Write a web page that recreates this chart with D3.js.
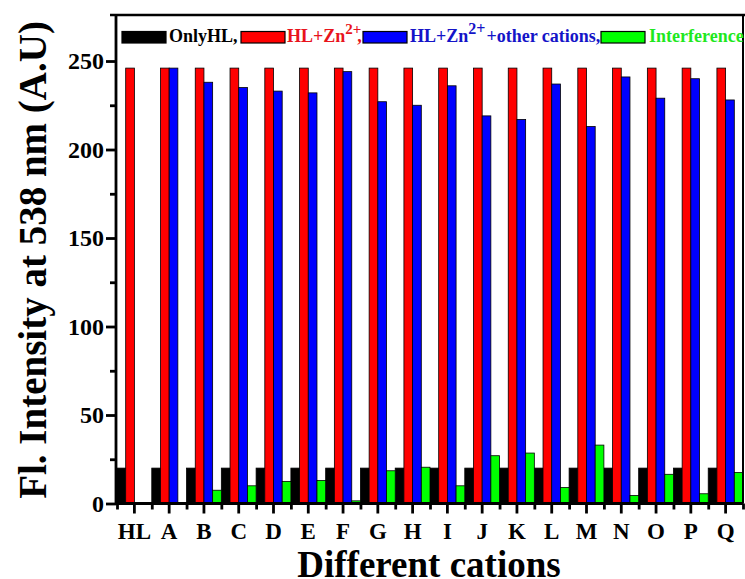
<!DOCTYPE html>
<html>
<head>
<meta charset="utf-8">
<script src="https://cdn.jsdelivr.net/npm/d3@7"></script>
<style>
  html, body { margin: 0; padding: 0; background: #fff; }
  svg { display: block; }
  text { font-family: "Liberation Serif", "Times New Roman", serif; font-weight: bold; }
</style>
</head>
<body>
<svg id="chart" width="745" height="579"></svg>
<script>
const categories = ["HL","A","B","C","D","E","F","G","H","I","J","K","L","M","N","O","P","Q"];
const onlyHL      = [20,20,20,20,20,20,20,20,20,20,20,20,20,20,20,20,20,20];
const hlZn        = [246,246,246,246,246,246,246,246,246,246,246,246,246,246,246,246,246,246];
const hlZnOther   = [0,246,238,235,233,232,244,227,225,236,219,217,237,213,241,229,240,228];
const interference= [0,0,7.5,10,12.5,13,1.5,18.5,20.5,10,27,28.5,9,33,4.5,16.5,5.5,17.5];
const seriesNames = ["OnlyHL","HL+Zn2+","HL+Zn2+ +other cations","Interference"];
const seriesData  = [onlyHL, hlZn, hlZnOther, interference];
const seriesColors = ["#000000","#ff0000","#0000ff","#00ff00"];
const yTicks = [0,50,100,150,200,250];
const yMinorTicks = [25,75,125,175,225];

const svg = d3.select("#chart");
const pL = 117, pR = 743, pT = 15, pB = 503.5;

const x = d3.scaleBand().domain(categories).range([pL, pR]).padding(0);
const xs = d3.scaleBand().domain(d3.range(seriesData.length)).range([0, x.bandwidth()]).padding(0);
const y = d3.scaleLinear().domain([0, 276]).range([pB, pT]);

// bars
seriesData.forEach((vals, si) => {
  svg.append("g").selectAll("rect").data(vals).join("rect")
    .attr("x", (d, i) => x(categories[i]) + xs(si))
    .attr("y", d => y(d))
    .attr("width", xs.bandwidth())
    .attr("height", d => y(0) - y(d))
    .attr("fill", seriesColors[si])
    .attr("stroke", "#000")
    .attr("stroke-width", d => d > 0 ? 0.8 : 0);
});

// frame
svg.append("line").attr("x1", 110).attr("x2", 745).attr("y1", pT).attr("y2", pT)
  .attr("stroke", "#000").attr("stroke-width", 2.5);
svg.append("line").attr("x1", pR).attr("x2", pR).attr("y1", pT).attr("y2", pB)
  .attr("stroke", "#000").attr("stroke-width", 2);

// y axis
const yAxis = svg.append("g").attr("transform", `translate(${pL - 1},0)`)
  .call(d3.axisLeft(y).tickValues(yTicks).tickSize(10).tickPadding(2).tickSizeOuter(0));
svg.append("g").attr("class", "minor").attr("transform", `translate(${pL - 1},0)`)
  .call(d3.axisLeft(y).tickValues(yMinorTicks).tickSize(6).tickFormat("").tickSizeOuter(0))
  .call(g => g.select(".domain").remove());
yAxis.select(".domain").attr("d", `M0,${pT}V${pB}`);
yAxis.selectAll(".domain").attr("stroke-width", 2.8);
svg.selectAll(".tick line").attr("stroke-width", 2.8);
yAxis.selectAll("text").attr("font-size", 24).attr("fill", "#000");

// x axis
const xAxis = svg.append("g").attr("transform", `translate(0,${pB})`)
  .call(d3.axisBottom(x).tickSize(10).tickPadding(9).tickSizeOuter(0));
xAxis.select(".domain").attr("d", `M${pL - 2},0H${pR}`).attr("stroke-width", 2.8);
xAxis.selectAll(".tick line").attr("stroke-width", 2.8);
xAxis.selectAll("text").attr("font-size", 23).attr("fill", "#000");
const xb = d3.scaleLinear().domain([0, categories.length]).range([pL, pR]);
svg.append("g").attr("transform", `translate(0,${pB})`)
  .call(d3.axisBottom(xb).tickValues(d3.range(0, categories.length + 1)).tickSize(6).tickFormat("").tickSizeOuter(0))
  .call(g => g.select(".domain").remove())
  .selectAll(".tick line").attr("stroke-width", 2.8);

// axis titles
svg.append("text").attr("x", 429).attr("y", 577).attr("text-anchor", "middle")
  .attr("font-size", 37).text("Different cations");
svg.append("text").attr("transform", `translate(46,260) rotate(-90)`)
  .attr("text-anchor", "middle").attr("font-size", 39).text("Fl. Intensity at 538 nm (A.U)");

// legend
const legY = 37, fs = 18;
const legend = svg.append("g");
const sw = [[122, 0], [241, 1], [363, 2], [601, 3]];
sw.forEach(([sx, si]) => {
  legend.append("rect").attr("x", sx).attr("y", legY - 5.5).attr("width", 44).attr("height", 11.5)
    .attr("fill", seriesColors[si]).attr("stroke", "#000").attr("stroke-width", 1.2);
});
legend.append("text").attr("x", 169).attr("y", legY + 5).attr("font-size", fs).attr("fill", "#000").text("OnlyHL,");
const t2 = legend.append("text").attr("x", 287).attr("y", legY + 5).attr("font-size", fs).attr("fill", "#e8141c");
t2.append("tspan").text("HL+Zn");
t2.append("tspan").attr("dy", -8).attr("font-size", 15).text("2+");
t2.append("tspan").attr("dy", 8).attr("dx", -4).text(",");
const t3 = legend.append("text").attr("x", 410).attr("y", legY + 5).attr("font-size", fs).attr("fill", "#1414c8");
t3.append("tspan").text("HL+Zn");
t3.append("tspan").attr("dy", -8).attr("font-size", 16).text("2+");
t3.append("tspan").attr("dy", 8).attr("dx", 1).text("+other cations,");
legend.append("text").attr("x", 649).attr("y", legY + 5).attr("font-size", fs).attr("fill", "#1ee81e").text("Interference");
</script>
</body>
</html>
